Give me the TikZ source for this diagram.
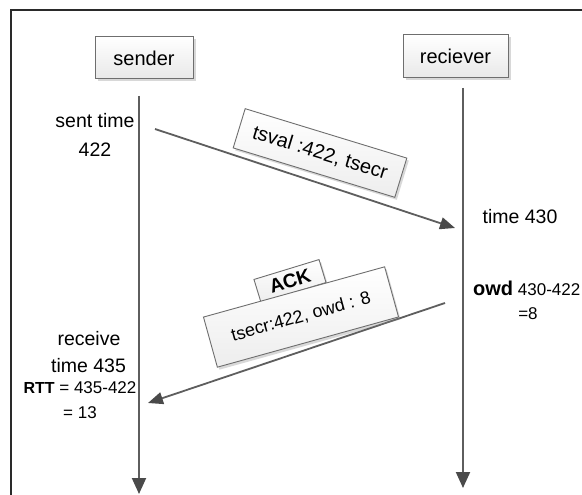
\documentclass[tikz,border=0pt]{standalone}
\usepackage{fontspec}
\setmainfont{Liberation Sans}
\usetikzlibrary{shadows,arrows.meta}
\definecolor{linegray}{HTML}{5E5E5E}
\definecolor{tipgray}{HTML}{4A4A4A}
\definecolor{boxborder}{HTML}{6E6E6E}
\definecolor{framecol}{HTML}{2A2A2A}
\tikzset{
  actor/.style={draw=boxborder, line width=1pt, top color=white, bottom color=black!9,
    inner sep=0pt, font=\fontsize{20}{22}\selectfont,
    drop shadow={shadow xshift=2.5pt, shadow yshift=-2.5pt, opacity=0.3}},
  msgbox/.style={draw=boxborder, line width=0.9pt, top color=white, bottom color=black!7,
    inner sep=0pt, drop shadow={shadow xshift=2pt, shadow yshift=-2.5pt, opacity=0.3}},
  life/.style={draw=linegray, line width=2pt,
    -{Triangle[length=16pt,width=14pt,color=tipgray]}},
  msg/.style={draw=linegray, line width=1.8pt,
    -{Triangle[length=15pt,width=12pt,color=tipgray]}},
  lbl/.style={font=\fontsize{19.5}{23}\selectfont, inner sep=0pt, anchor=base},
  small/.style={font=\fontsize{17}{20}\selectfont, inner sep=0pt, anchor=base},
}
\begin{document}
\begin{tikzpicture}[x=1pt,y=-1pt]
\useasboundingbox (0,0) rectangle (582,495);
\fill[white] (0,0) rectangle (582,495);
% frame
\draw[framecol, line width=1.4pt] (11,495) -- (11,10) -- (582,10);

% actors
\node[actor, minimum width=98pt, minimum height=42pt] (sender) at (144,58) {sender};
\node[actor, minimum width=105pt, minimum height=43pt] (receiver) at (455.5,56.5) {reciever};

% lifelines
\coordinate (s0) at (139,96);
\coordinate (s1) at (139,494);
\coordinate (r0) at (463,88);
\coordinate (r1) at (463,488);
\draw[life] (s0) -- (s1);
\draw[life] (r0) -- (r1);

% message 1
\coordinate (m1a) at (155,129);
\coordinate (m1b) at (455,228);
\draw[msg] (m1a) -- (m1b);
\node[msgbox, minimum width=169pt, minimum height=41pt, rotate=-17,
      font=\fontsize{20}{22}\selectfont] (tsval) at (320,153) {tsval :422, tsecr};

% message 2
\coordinate (m2a) at (445,303);
\coordinate (m2b) at (148,403);
\draw[msg] (m2a) -- (m2b);
\node[msgbox, minimum width=68pt, minimum height=24pt, rotate=17,
      font=\bfseries\fontsize{19.5}{22}\selectfont] (ack) at (290,281) {ACK};
\node[msgbox, minimum width=188pt, minimum height=52pt, rotate=15.5,
      font=\fontsize{18}{21}\selectfont] (tsecr) at (301,317) {tsecr:422, owd : 8};

% sender side texts
\node[lbl] (sent1) at (95,128) {sent time};
\node[lbl] (sent2) at (95,156.5) {422};
\node[lbl] (recv1) at (89,345) {receive};
\node[lbl] (recv2) at (88.5,372.5) {time 435};
\node[small] (rtt) at (80,393) {{\bfseries\fontsize{16}{20}\selectfont RTT} = 435-422};
\node[small] (rtt2) at (80,418) {= 13};

% receiver side texts
\node[lbl] (t430) at (520,223) {time 430};
\node[small, anchor=base west] (owd) at (473,295) {{\bfseries\fontsize{20}{22}\selectfont owd} 430-422};
\node[small] (owd2) at (528,319) {=8};
\end{tikzpicture}
\end{document}
